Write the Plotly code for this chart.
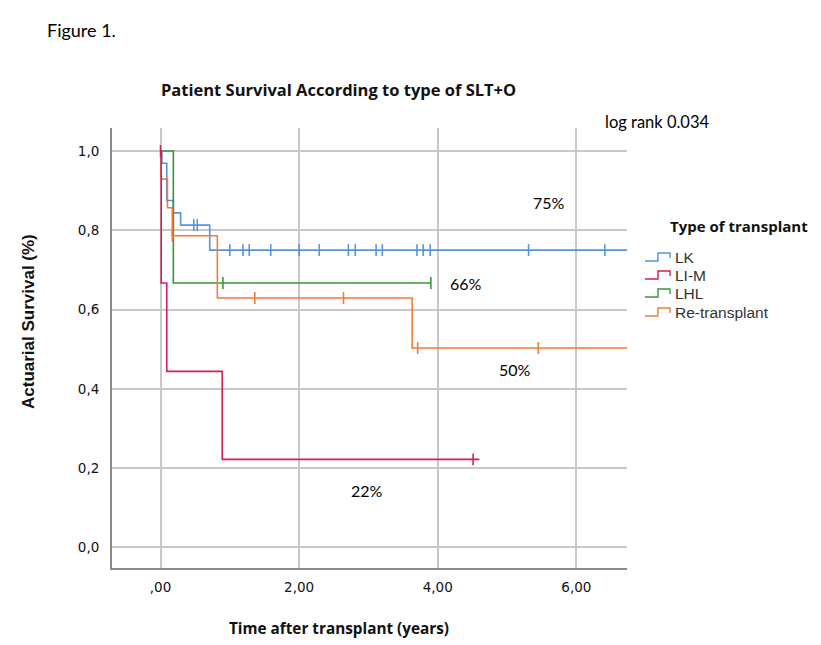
import plotly.graph_objects as go

# ---------------- data ----------------
groups = ["LK", "LI-M", "LHL", "Re-transplant"]

lk_times = [0, 0.02, 0.09, 0.185, 0.29, 0.71, 6.8]
lk_surv = [1.0, 0.969, 0.875, 0.844, 0.813, 0.75, 0.75]
lk_censor = [0.48, 0.53, 1.00, 1.19, 1.28, 1.59, 2.00, 2.29, 2.71, 2.81,
             3.11, 3.20, 3.70, 3.79, 3.89, 5.31, 6.41]

lim_times = [0, 0.01, 0.09, 0.89, 4.6]
lim_surv = [1.0, 0.667, 0.444, 0.222, 0.222]
lim_censor = [0.0, 4.51]

lhl_times = [0, 0.185, 3.90]
lhl_surv = [1.0, 0.667, 0.667]
lhl_censor = [0.90, 3.90]

re_times = [0, 0.01, 0.10, 0.17, 0.82, 3.63, 6.8]
re_surv = [1.0, 0.929, 0.857, 0.786, 0.629, 0.503, 0.503]
re_censor = [0.17, 1.36, 2.64, 3.71, 5.45]

x_tickvals = [0, 2, 4, 6]
x_ticktext = [",00", "2,00", "4,00", "6,00"]
y_tickvals = [0.0, 0.2, 0.4, 0.6, 0.8, 1.0]
y_ticktext = ["0,0", "0,2", "0,4", "0,6", "0,8", "1,0"]

pct_labels = ["75%", "66%", "50%", "22%"]

colors = {"LK": "#5595d9", "LI-M": "#d41f4f", "LHL": "#3a953a", "Re-transplant": "#f07b3c"}

series = {
    "LK": (lk_times, lk_surv, lk_censor),
    "LI-M": (lim_times, lim_surv, lim_censor),
    "LHL": (lhl_times, lhl_surv, lhl_censor),
    "Re-transplant": (re_times, re_surv, re_censor),
}


def step_value(times, surv, t):
    v = surv[0]
    for ti, si in zip(times, surv):
        if ti <= t + 1e-9:
            v = si
        else:
            break
    return v


fig = go.Figure()
for g in ["LK", "LHL", "Re-transplant", "LI-M"]:
    times, surv, cens = series[g]
    c = colors[g]
    fig.add_trace(go.Scatter(x=times, y=surv, mode="lines", line=dict(color=c, width=1.6, shape="hv"),
                             showlegend=False, hoverinfo="skip"))
    fig.add_trace(go.Scatter(x=cens, y=[step_value(times, surv, t) for t in cens], mode="markers",
                             marker=dict(symbol="line-ns", size=8.5, line=dict(color=c, width=1.6)),
                             showlegend=False, hoverinfo="skip"))

# ---------------- layout helpers (reference pixel -> paper) ----------------
L, R, T, B = 112, 627, 128, 568   # plot area in reference pixels
OFF = 8                            # page body margin of the html


def px(x):
    return (x - L) / (R - L)


def py(y):
    return (B - y) / (B - T)


ann = []


def text(x, y, s, size, family="Lato", bold=False, xanchor="left", color="#000", angle=0):
    ann.append(dict(x=px(x), y=py(y), xref="paper", yref="paper", text=("<b>%s</b>" % s) if bold else s,
                    showarrow=False, xanchor=xanchor, yanchor="middle", textangle=angle,
                    font=dict(family=family, size=size, color=color)))


text(45, 30, "Figure 1.", 18)
text(338, 90, "Patient Survival According to type of SLT+O", 16.5, family="Open Sans", bold=True,
     xanchor="center", color="#111")
text(603, 122, "log rank 0.034", 16.5)
for s, (x, y) in zip(pct_labels, [(531, 202), (448, 283), (497, 369), (349, 490)]):
    text(x, y, s, 16)
text(668, 226, "Type of transplant", 15, family="Open Sans", bold=True, color="#111")
text(339, 628, "Time after transplant (years)", 15.3, family="Open Sans", bold=True, xanchor="center",
     color="#111")
text(28, 322, "Actuarial Survival (%)", 17, family="Liberation Sans", bold=True, xanchor="center",
     color="#111", angle=-90)

shapes = []
for g, y in zip(groups, [257, 275, 293, 312]):
    text(673, y, g, 15.5, family="Liberation Sans", color="#333")
    path = "M %f,%f L %f,%f L %f,%f L %f,%f L %f,%f" % (
        px(645), py(y + 4), px(658), py(y + 4), px(658), py(y - 4), px(670), py(y - 4), px(670), py(y + 1))
    shapes.append(dict(type="path", xref="paper", yref="paper", path=path,
                       line=dict(color=colors[g], width=1.4)))

axis_font = dict(family="DejaVu Sans", size=13.5, color="#111")
fig.update_layout(
    width=821, height=645,
    margin=dict(l=L - OFF, r=821 - (R - OFF), t=T - OFF, b=645 - (B - OFF)),
    paper_bgcolor="white", plot_bgcolor="white",
    annotations=ann, shapes=shapes,
    xaxis=dict(range=[-0.70, 6.73], tickvals=x_tickvals, ticktext=x_ticktext, showgrid=True,
               gridcolor="#c8c8c8", gridwidth=2, zeroline=False, showline=True, linecolor="#8a8a8a",
               linewidth=2, ticks="", tickfont=axis_font, ticklabelstandoff=6),
    yaxis=dict(range=[-0.052, 1.058], tickvals=y_tickvals, ticktext=y_ticktext, showgrid=True,
               gridcolor="#c8c8c8", gridwidth=2, zeroline=False, showline=True, linecolor="#8a8a8a",
               linewidth=2, ticks="", tickfont=axis_font, ticklabelstandoff=8),
)

fig.write_html("out.html")
